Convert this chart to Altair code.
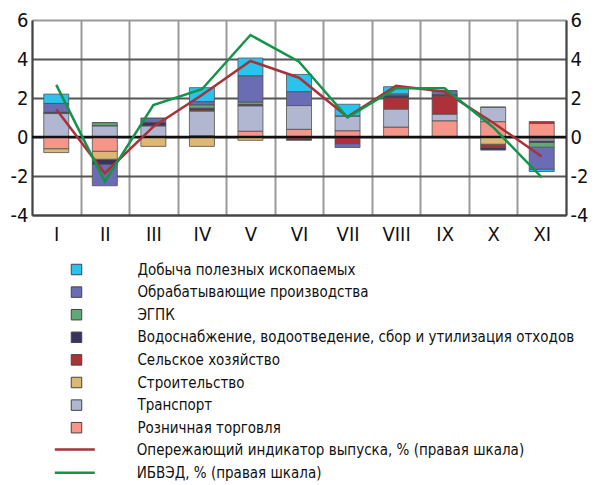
import altair as alt
import pandas as pd

months = ["I", "II", "III", "IV", "V", "VI", "VII", "VIII", "IX", "X", "XI"]

series_names = [
    "Добыча полезных ископаемых",
    "Обрабатывающие производства",
    "ЭГПК",
    "Водоснабжение, водоотведение, сбор и утилизация отходов",
    "Сельское хозяйство",
    "Строительство",
    "Транспорт",
    "Розничная торговля",
]
series_colors = ["#29c3ee", "#6a6cb4", "#5fa878", "#3a335f", "#ad3138",
                 "#dcb874", "#b1b6d1", "#f6968a"]
# stacking order from zero outward
stack_rank = [8, 7, 6, 5, 4, 2, 3, 1]

mining = [0.48, 0.0, 0.0, 0.72, 0.92, 0.89, 0.62, 0.38, 0.0, 0.0, -0.12]
manuf = [0.46, -1.10, 0.23, 0.17, 1.35, 0.71, -0.20, 0.10, 0.22, 0.0, -1.13]
egpk = [0.0, 0.17, 0.0, 0.17, 0.12, 0.0, 0.0, 0.0, 0.0, 0.0, -0.24]
water = [0.06, -0.26, 0.17, 0.09, 0.07, -0.07, 0.0, 0.10, 0.05, -0.14, -0.08]
agri = [0.0, 0.0, 0.0, 0.06, 0.0, -0.10, -0.34, 0.58, 0.94, -0.16, 0.10]
constr = [-0.20, -0.41, -0.48, -0.48, -0.17, 0.0, 0.0, 0.0, 0.0, -0.37, -0.10]
transport = [1.20, 0.56, 0.56, 1.26, 1.30, 1.22, 0.75, 0.92, 0.34, 0.74, -0.10]
retail = [-0.60, -0.73, 0.0, 0.06, 0.29, 0.39, 0.31, 0.50, 0.82, 0.78, 0.69]

line_names = ["Опережающий индикатор выпуска, % (правая шкала)", "ИБВЭД, % (правая шкала)"]
line_colors = ["#a8323a", "#14944a"]
leading = [1.42, -1.86, 0.53, 2.15, 3.90, 3.04, 1.03, 2.63, 2.32, 0.73, -1.00]
ibved = [2.67, -2.29, 1.64, 2.45, 5.23, 3.86, 1.00, 2.50, 2.50, 0.50, -2.07]

y_ticks = [-4, -2, 0, 2, 4, 6]

FONT = "DejaVu Sans Condensed, DejaVu Sans, sans-serif"

all_series = [mining, manuf, egpk, water, agri, constr, transport, retail]
rows = []
for name, rank, vals in zip(series_names, stack_rank, all_series):
    for m, v in zip(months, vals):
        rows.append({"month": m, "series": name, "rank": rank, "value": v})
bars_df = pd.DataFrame(rows)

x_enc = alt.X("month:N", sort=months, title=None,
              scale=alt.Scale(paddingInner=0, paddingOuter=0),
              axis=alt.Axis(tickBand="extent", grid=True, gridColor="#9a9a9a",
                            gridWidth=2, ticks=False, labelAngle=0,
                            labelFontSize=20, labelFont=FONT, labelColor="#111",
                            labelPadding=9, domainColor="#444", domainWidth=2))

y_scale = alt.Scale(domain=[-4, 6], nice=False)

left_axis = alt.Axis(values=y_ticks, grid=True,
                     gridColor={"condition": {"test": "datum.value == 6", "value": "#9a9a9a"},
                                "value": "#555"},
                     gridWidth=2,
                     ticks=False, labelFontSize=20, labelFont=FONT,
                     labelColor="#111", labelPadding=4, domainColor="#444",
                     domainWidth=2, labelExpr="toString(datum.value)",
                     labelOverlap=False)
right_axis = alt.Axis(values=y_ticks, orient="right", grid=False, ticks=False,
                      labelFontSize=20, labelFont=FONT, labelColor="#111",
                      labelPadding=4, domainColor="#444", domainWidth=2,
                      labelExpr="toString(datum.value)", labelOverlap=False)

bars = alt.Chart(bars_df).mark_bar(stroke="#505050", strokeWidth=0.8).encode(
    x=x_enc,
    y=alt.Y("value:Q", scale=y_scale, title=None, stack="zero", axis=left_axis),
    color=alt.Color("series:N", sort=series_names,
                    scale=alt.Scale(domain=series_names, range=series_colors),
                    legend=alt.Legend(title=None, orient="none", legendX=37, legendY=242,
                                      symbolType="square", symbolSize=110,
                                      symbolStrokeColor="#444", symbolStrokeWidth=1,
                                      labelFontSize=15, labelFont=FONT, labelColor="#111",
                                      labelOffset=53.4, rowPadding=6.6, labelLimit=600)),
    order=alt.Order("rank:Q"),
    size=alt.value(25),
)

zero = alt.Chart(pd.DataFrame({"z": [0]})).mark_rule(color="#111", strokeWidth=2.5).encode(
    y=alt.Y("z:Q", scale=y_scale, title=None, axis=left_axis)
)


def line_layer(name, color, vals, ly):
    df = pd.DataFrame({"month": months, "series": name, "value": vals})
    return alt.Chart(df).mark_line(strokeWidth=2.5).encode(
        x=alt.X("month:N", sort=months),
        y=alt.Y("value:Q", scale=y_scale, title=None, axis=right_axis),
        stroke=alt.Stroke("series:N",
                          scale=alt.Scale(domain=[name], range=[color]),
                          legend=alt.Legend(title=None, orient="none", legendX=21.3, legendY=ly,
                                            symbolType="stroke", symbolSize=1600,
                                            symbolStrokeWidth=2.5,
                                            labelFontSize=15, labelFont=FONT,
                                            labelColor="#111", labelOffset=40.4,
                                            labelLimit=600)),
    )


line1 = line_layer(line_names[0], line_colors[0], leading, 408)
line2 = line_layer(line_names[1], line_colors[1], ibved, 431.3)

left = alt.layer(bars, zero)
right = alt.layer(line1, line2).resolve_scale(stroke="independent")
chart = alt.layer(left, right).resolve_scale(
    y="independent", color="independent", stroke="independent"
).properties(
    width=534, height=195, padding={"left": 2, "top": 2, "right": 0, "bottom": 0}
).configure_view(stroke=None)

chart.save("out.html", embed_options={"renderer": "svg", "actions": False})
